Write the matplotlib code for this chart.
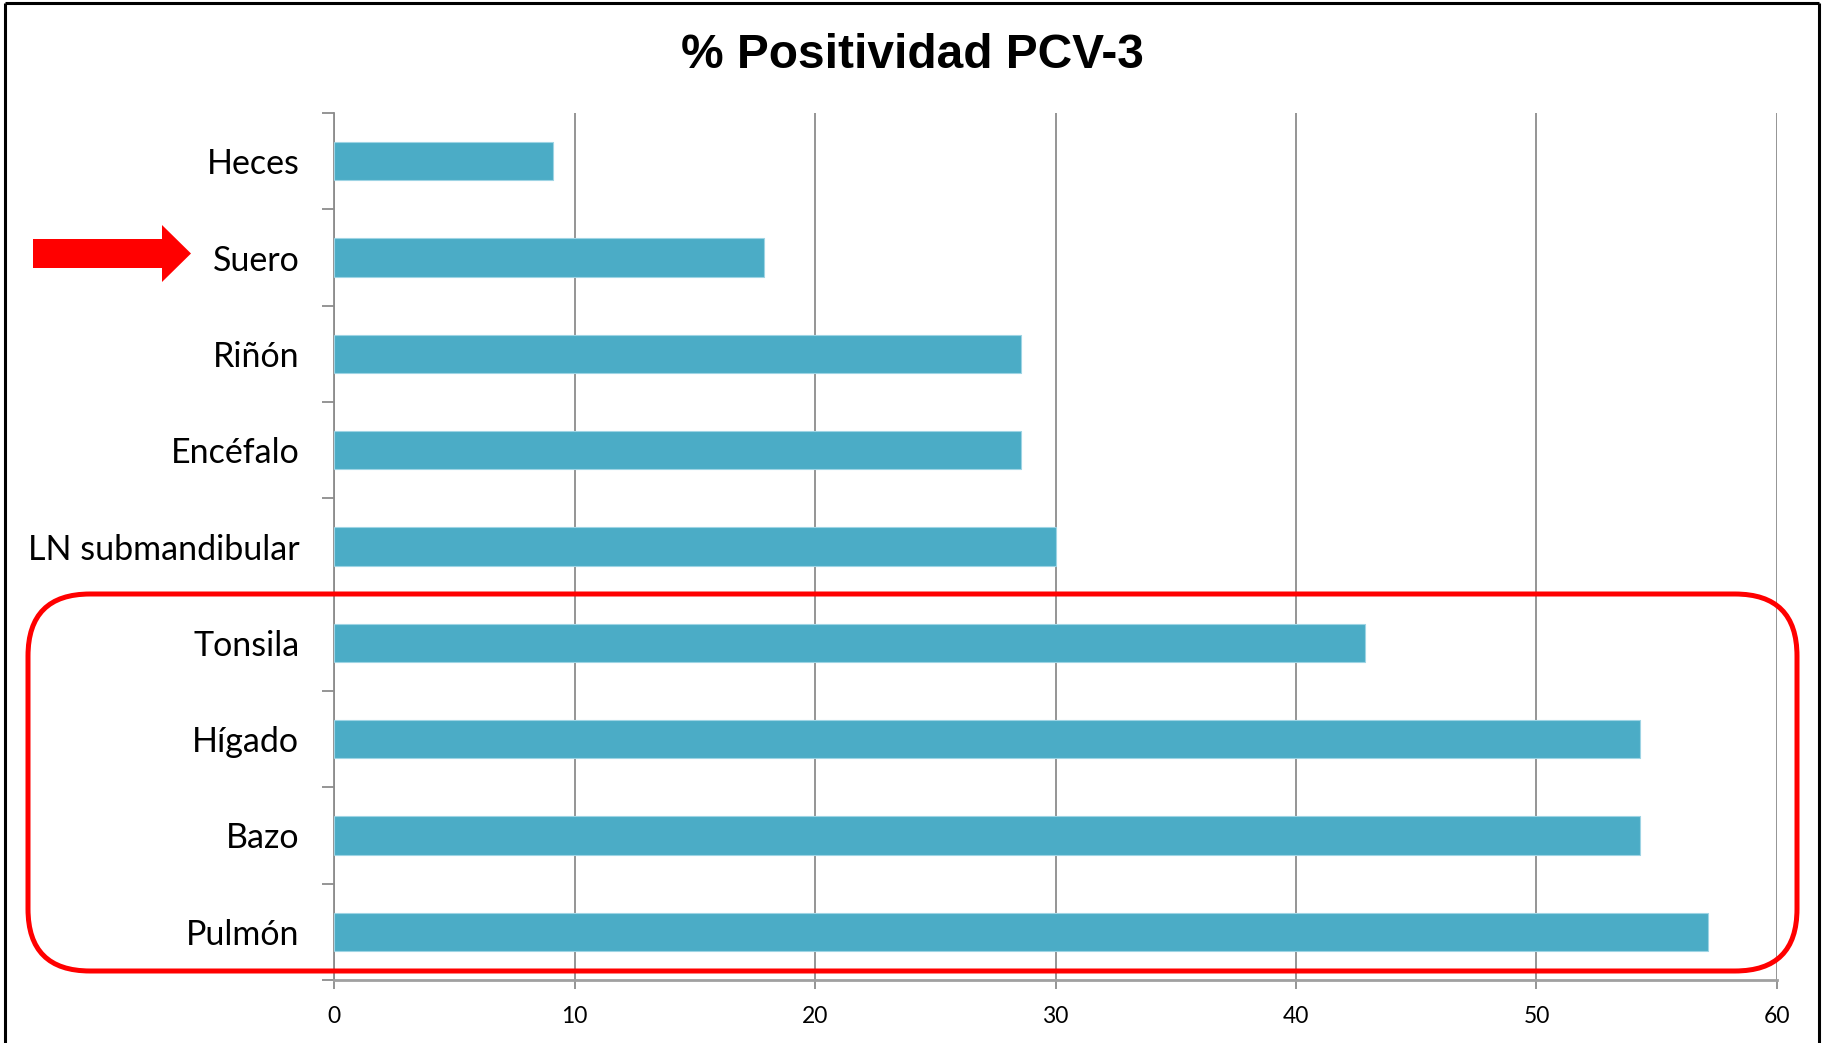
import matplotlib
matplotlib.use("Agg")
import matplotlib.pyplot as plt
import numpy as np
from matplotlib.patches import FancyBboxPatch, Polygon

# ---- data ----
categories = ["Heces", "Suero", "Riñón", "Encéfalo", "LN submandibular",
              "Tonsila", "Hígado", "Bazo", "Pulmón"]
values = [9.09, 17.86, 28.57, 28.57, 30.0, 42.86, 54.29, 54.29, 57.14]
x_ticks = [0, 10, 20, 30, 40, 50, 60]
title = "% Positividad PCV-3"

W, H = 1825, 1043
fig = plt.figure(figsize=(W / 100, H / 100), dpi=100)
fig.patch.set_facecolor("white")

L, R, T, B = 334, 1777, 113, 980
ax = fig.add_axes([L / W, 1 - B / H, (R - L) / W, (B - T) / H])

pos = np.arange(len(categories))
ax.barh(pos, values, height=0.40, color="#4BACC6", edgecolor="#9ed4e4",
        linewidth=0.8, zorder=3)
ax.set_ylim(len(categories) - 0.5, -0.5)
ax.set_xlim(0, 60)

grid_c = "#8c8c8c"
ax.set_xticks(x_ticks)
ax.set_xticklabels([str(t) for t in x_ticks], fontfamily="Lato", fontsize=16.5)
ax.xaxis.grid(True, color=grid_c, linewidth=1.3, zorder=0)
ax.set_axisbelow(True)
ax.tick_params(axis="x", length=6.5, width=1.3, color=grid_c, pad=12,
               labelcolor="black")

ax.set_yticks(pos)
ax.set_yticklabels(categories, fontfamily="Lato", fontsize=24.5)
ax.set_yticks(np.arange(len(categories) + 1) - 0.5, minor=True)
ax.tick_params(axis="y", which="major", length=0, pad=25)
ax.tick_params(axis="y", which="minor", length=8.3, width=1.3, color=grid_c)

for s in ["top", "right"]:
    ax.spines[s].set_visible(False)
ax.spines["left"].set_color(grid_c)
ax.spines["left"].set_linewidth(1.3)
ax.spines["bottom"].set_color("#a0a0a0")
ax.spines["bottom"].set_linewidth(2)

fig.text(0.5, 1 - 56 / H, title, ha="center", va="center",
         fontfamily="Liberation Sans", fontweight="bold", fontsize=34.5)

# ---- overlay annotations in pixel coords ----
ov = fig.add_axes([0, 0, 1, 1], zorder=10)
ov.set_xlim(0, W)
ov.set_ylim(H, 0)
ov.axis("off")
ov.patch.set_alpha(0)

# figure border
ov.plot([5, 5], [H + 5, 3], color="black", lw=2.2, solid_capstyle="butt")
ov.plot([5, 1819], [3, 3], color="black", lw=2.2, solid_capstyle="butt")
ov.plot([1819, 1819], [3, H + 5], color="black", lw=2.2, solid_capstyle="butt")

# red rounded rectangle
rr = FancyBboxPatch((28 + 62, 594 + 62), 1797 - 28 - 124, 971 - 594 - 124,
                    boxstyle="round,pad=62", fill=False, edgecolor="#ff0000",
                    linewidth=3.6)
ov.add_patch(rr)

# red arrow
arrow = Polygon([(33, 239), (162, 239), (162, 225), (191, 253.5),
                 (162, 282), (162, 268), (33, 268)], closed=True,
                facecolor="#ff0000", edgecolor="none")
ov.add_patch(arrow)

fig.savefig("out.png", dpi=100)
